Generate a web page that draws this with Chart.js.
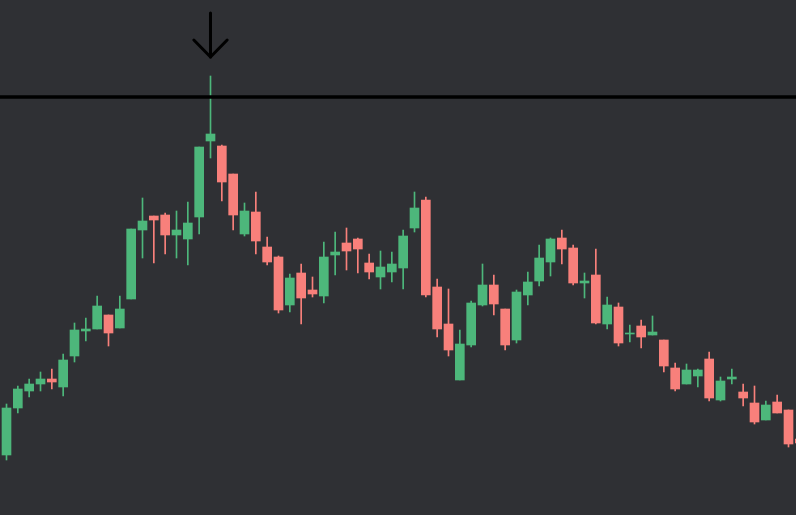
<!DOCTYPE html>
<html>
<head>
<meta charset="utf-8">
<script src="https://cdn.jsdelivr.net/npm/chart.js@4"></script>
<style>
  html, body { margin: 0; padding: 0; background: #2f3034; }
  #wrap { width: 796px; height: 515px; position: relative; }
</style>
</head>
<body>
<div id="wrap"><canvas id="c"></canvas></div>
<script>
const UP = "#4db77b";
const DOWN = "#f8807b";

// OHLC, one entry per candle
const opens  = [60,107,124,131,136,128,159,184,186,200,187,216,285,299,300,280,276,298,374,369,341,281,303,268,258,210,242,225,219,260,272,276,252,238,243,247,287,315,228,191,135,170,210,230,206,175,220,234,253,277,267,232,240,191,208,181,189,180,175,147,131,139,156,115,136,123,112,95,113,105,76];
const highs  = [111,129,136,143,146,161,192,197,219,200,219,286,317,299,302,304,313,368,439,370,341,312,323,278,259,241,251,238,273,283,287,277,261,264,263,285,323,318,236,226,185,214,251,240,206,225,243,270,277,285,270,242,266,218,212,190,195,199,175,152,151,146,163,138,146,131,129,114,120,105,80];
const lows   = [55,102,118,124,126,119,153,174,186,169,187,216,257,252,261,257,250,281,357,314,285,279,261,250,202,203,191,218,212,240,245,242,236,226,233,226,283,218,178,159,135,168,209,200,165,172,210,229,239,251,230,217,191,186,169,173,167,180,143,124,131,128,114,114,131,109,91,95,102,68,68];
const closes = [107,126,131,136,133,155,185,186,209,182,206,286,294,295,280,285,292,368,381,333,300,304,274,253,205,237,217,221,258,263,264,266,243,248,251,279,307,220,186,165,171,212,230,211,170,223,233,257,276,266,232,234,192,210,172,182,178,183,149,126,145,145,117,134,138,117,93,110,102,71,72];

const levelPrice = 418;   // black horizontal level
const arrowGap = 19;      // arrow tip sits this far above the peak high
const arrowLen = 44;
const arrowHead = 17;

const idx = opens.map((_, i) => i);
const colors = idx.map((i) => (closes[i] >= opens[i] ? UP : DOWN));
const peak = highs.indexOf(Math.max(...highs));
const tip = highs[peak] + arrowGap;

new Chart(document.getElementById("c"), {
  type: "bar",
  data: {
    datasets: [
      {
        label: "wick",
        data: idx.map((i) => ({ x: i, y: [lows[i], highs[i]] })),
        backgroundColor: colors,
        barThickness: 1,
        order: 3,
      },
      {
        label: "body",
        data: idx.map((i) => ({ x: i, y: [opens[i], closes[i]] })),
        backgroundColor: colors,
        barThickness: 9,
        order: 2,
      },
      {
        type: "line",
        label: "level",
        data: [{ x: -2, y: levelPrice }, { x: 72, y: levelPrice }],
        borderColor: "#000",
        borderWidth: 3.5,
        pointRadius: 0,
        order: 1,
      },
      {
        type: "line",
        label: "shaft",
        data: [{ x: peak, y: tip + arrowLen }, { x: peak, y: tip }],
        borderColor: "#000",
        borderWidth: 3,
        borderCapStyle: "round",
        pointRadius: 0,
        order: 0,
      },
      {
        type: "line",
        label: "head",
        data: [{ x: peak - 1.47, y: tip + arrowHead }, { x: peak, y: tip }, { x: peak + 1.47, y: tip + arrowHead }],
        borderColor: "#000",
        borderWidth: 3,
        borderCapStyle: "round",
        borderJoinStyle: "round",
        pointRadius: 0,
        order: 0,
      },
    ],
  },
  options: {
    responsive: true,
    maintainAspectRatio: false,
    animation: false,
    grouped: false,
    layout: { padding: 0 },
    plugins: { legend: { display: false }, tooltip: { enabled: false } },
    scales: {
      x: { type: "linear", display: false, offset: false, min: -0.5735, max: 69.662 },
      y: { display: false, min: 0, max: 515, beginAtZero: false },
    },
  },
});
</script>
</body>
</html>
